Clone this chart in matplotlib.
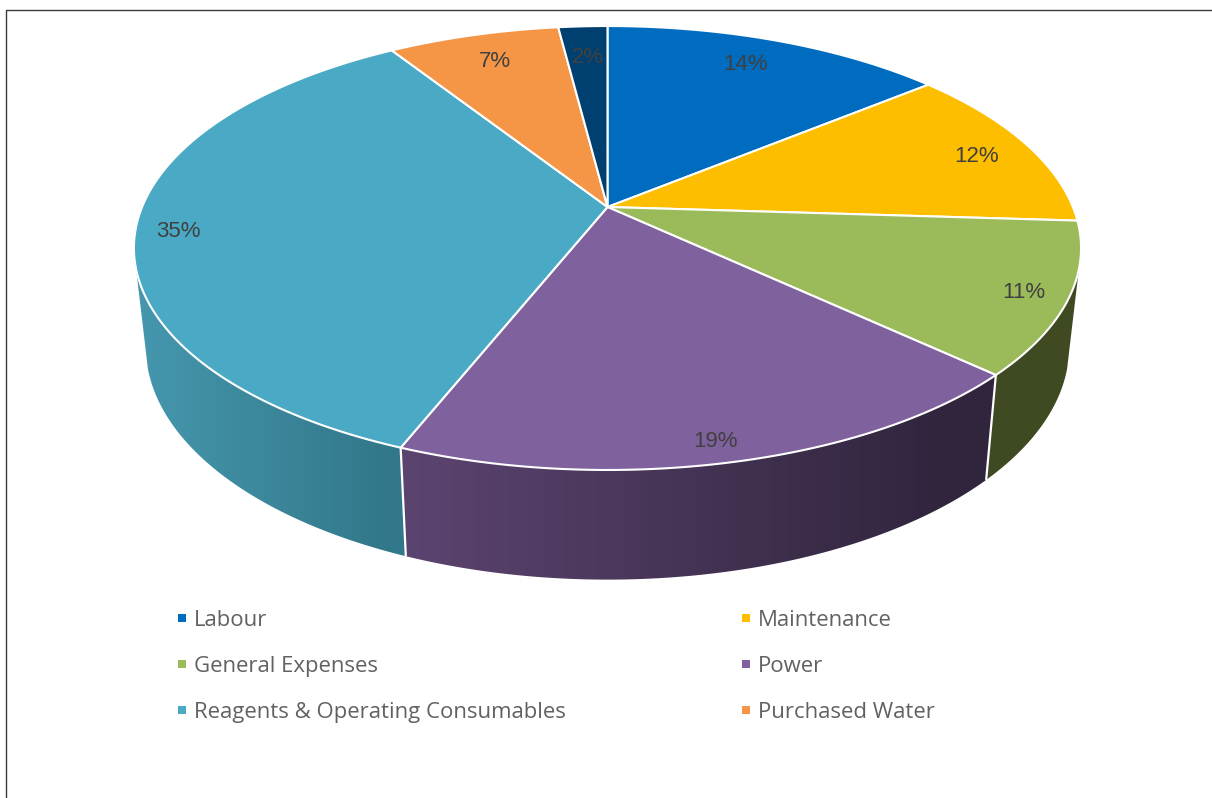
import numpy as np
import matplotlib
matplotlib.use("Agg")
import matplotlib.pyplot as plt
from matplotlib.colors import LinearSegmentedColormap
from matplotlib.lines import Line2D
from matplotlib.patches import Polygon

# ---- data ----
categories = ["Labour", "Maintenance", "General Expenses", "Power",
              "Reagents & Operating Consumables", "Purchased Water", "Other"]
values = [14, 12, 11, 19, 35, 7, 2]
top_colors = ["#006cbf", "#fdbe00", "#9bba5a", "#7f619e", "#4aa9c5", "#f59646", "#004070"]
wall_left = [None, None, "#3f4a22", "#5c4470", "#4597ae", None, None]
wall_right = [None, None, "#3f4a22", "#30253d", "#32788a", None, None]
label_radius = [0.845, 0.87, 0.91, 0.923, 0.91, 0.84, 0.82]
label_turn = [-1.5, 0.7, 0.0, 0.5, -0.9, 0.6, 0.3]
legend_order = [0, 2, 4, 1, 3, 5]

# ---- projection of the tilted pie ----
APEX = np.array([607.5, 207.0])
A, B, K = 465.4, 214.4, 0.1847
WALL_SX, WALL_SY, WALL_DY = 0.975, 1.05, 96.5
WALL_FROM, WALL_TO = 106.0, 254.0


def top_xy(theta, r=1.0):
    t = np.radians(theta)
    x, y = r * np.sin(t), r * np.cos(t)
    d = 1 + K * y
    return A * x / d, B * y / d


def to_px(X, Y):
    return APEX[0] + X, APEX[1] - Y


def lower_px(X, Y):
    return APEX[0] + X * WALL_SX, APEX[1] - (WALL_SY * Y - WALL_DY)


fig = plt.figure(figsize=(12.12, 7.98), dpi=100, facecolor="white")
ax = fig.add_axes([0, 0, 1, 1])
ax.axis("off")

# frame of the source picture
ax.plot([6, 6, 1212], [798, 10, 10], color="#3a3a3a", lw=1.0, zorder=1)

edges = np.concatenate([[0], np.cumsum(values)]) / sum(values) * 360.0

# ---- side wall: horizontal gradient clipped to each slice's wall ----
for i in range(len(values)):
    a0, a1 = max(edges[i], WALL_FROM), min(edges[i + 1], WALL_TO)
    if a1 <= a0:
        continue
    th = np.linspace(a0, a1, 200)
    X, Y = top_xy(th)
    tx, ty = to_px(X, Y)
    lx, ly = lower_px(X, Y)
    outline = np.c_[np.r_[tx, lx[::-1]], np.r_[ty, ly[::-1]]]
    left, right = outline[:, 0].min(), outline[:, 0].max()
    top, bottom = outline[:, 1].min(), outline[:, 1].max()
    cmap = LinearSegmentedColormap.from_list(
        f"wall{i}", [(0.0, wall_left[i]), (0.92, wall_right[i]), (1.0, wall_right[i])])
    grad = np.linspace(0, 1, 512)[None, :]
    im = ax.imshow(grad, cmap=cmap, vmin=0, vmax=1, aspect="auto",
                   extent=(left, right, bottom, top), interpolation="bilinear", zorder=2)
    clip = Polygon(outline, closed=True, transform=ax.transData, facecolor="none", edgecolor="none")
    ax.add_patch(clip)
    im.set_clip_path(clip)

ax.set_xlim(0, 1212)
ax.set_ylim(798, 0)

# seams between wall segments
for a in edges[1:-1]:
    if WALL_FROM < a < WALL_TO:
        X, Y = top_xy(a)
        px, py = to_px(X, Y)
        qx, qy = lower_px(X, Y)
        ax.plot([px, qx], [py, qy], color="white", lw=1.6, zorder=3, solid_capstyle="butt")

# ---- top face ----
for i in range(len(values)):
    th = np.linspace(edges[i], edges[i + 1], 200)
    X, Y = top_xy(th)
    px, py = to_px(X, Y)
    ax.fill(np.r_[APEX[0], px], np.r_[APEX[1], py], facecolor=top_colors[i],
            edgecolor="white", lw=1.5, joinstyle="round", zorder=4)

# ---- value labels ----
for i, v in enumerate(values):
    mid = 0.5 * (edges[i] + edges[i + 1]) + label_turn[i]
    X, Y = top_xy(mid, label_radius[i])
    px, py = to_px(X, Y)
    ax.text(px, py, f"{v}%", ha="center", va="center_baseline", fontsize=16,
            family="Liberation Sans", color="#404040", zorder=5)

# ---- legend ----
handles = [Line2D([], [], ls="none", marker="s", ms=6, mew=0, color=top_colors[i]) for i in legend_order]
labels = [categories[i] for i in legend_order]
leg = ax.legend(handles, labels, ncols=2, frameon=False, loc="upper left",
                bbox_to_anchor=(177.6, 610), bbox_transform=ax.transData,
                borderpad=0, borderaxespad=0, handlelength=0.4, handletextpad=0.344,
                labelspacing=1.132, columnspacing=7.95,
                prop={"family": "Open Sans", "size": 15.9}, labelcolor="#616161")

fig.savefig("out.png", dpi=100)
